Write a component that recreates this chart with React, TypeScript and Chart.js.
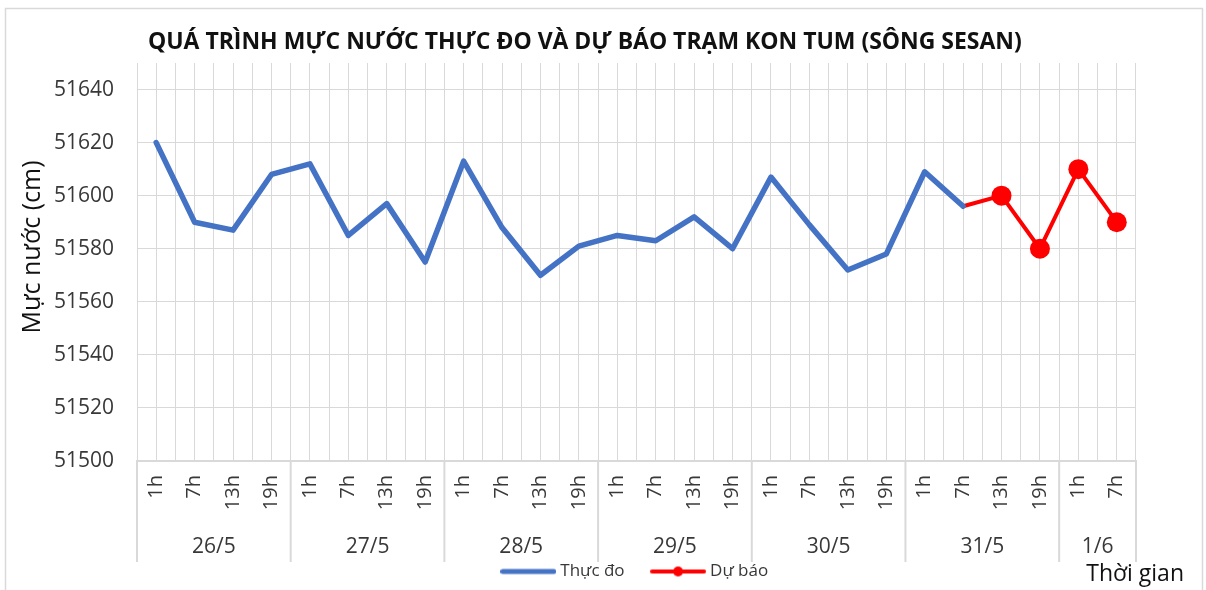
import React, { useEffect, useRef } from 'react';
import { Chart, registerables } from 'chart.js';

Chart.register(...registerables);

const TITLE = 'QUÁ TRÌNH MỰC NƯỚC THỰC ĐO VÀ DỰ BÁO TRẠM KON TUM (SÔNG SESAN)';
const Y_TITLE = 'Mực nước (cm)';
const X_TITLE = 'Thời gian';

const hourLabels = [
  '1h', '7h', '13h', '19h',
  '1h', '7h', '13h', '19h',
  '1h', '7h', '13h', '19h',
  '1h', '7h', '13h', '19h',
  '1h', '7h', '13h', '19h',
  '1h', '7h', '13h', '19h',
  '1h', '7h',
];
const dayLabels = ['26/5', '27/5', '28/5', '29/5', '30/5', '31/5', '1/6'];
const daySpans = [4, 4, 4, 4, 4, 4, 2];

const observed = [
  51620, 51590, 51587, 51608,
  51612, 51585, 51597, 51575,
  51613, 51588, 51570, 51581,
  51585, 51583, 51592, 51580,
  51607, 51589, 51572, 51578,
  51609, 51596, null, null,
  null, null,
];
const forecast = [
  null, null, null, null,
  null, null, null, null,
  null, null, null, null,
  null, null, null, null,
  null, null, null, null,
  null, 51596, 51600, 51580,
  51610, 51590,
];

const Y_MIN = 51500;
const Y_MAX = 51650;
const Y_LAST_TICK = 51640;
const Y_STEP = 20;

const FONT = '"Open Sans", "DejaVu Sans", sans-serif';
const GRID = '#d9d9d9';
const TEXT = '#383838';
const BLUE = '#4472C4';
const RED = '#FF0000';

function legendImage(color: string, lineW: number, dot: boolean) {
  const c = document.createElement('canvas');
  c.width = 56;
  c.height = 12;
  const g = c.getContext('2d')!;
  g.strokeStyle = color;
  g.lineWidth = lineW;
  g.lineCap = 'round';
  g.beginPath();
  g.moveTo(lineW / 2, 6);
  g.lineTo(56 - lineW / 2, 6);
  g.stroke();
  if (dot) {
    g.fillStyle = color;
    g.beginPath();
    g.arc(28, 6, 5, 0, Math.PI * 2);
    g.fill();
  }
  return c;
}

const decorPlugin = {
  id: 'decor',
  afterDraw(chart: any) {
    const { ctx, chartArea } = chart;
    const xs = chart.scales.x;
    ctx.save();
    // outer border
    ctx.strokeStyle = GRID;
    ctx.lineWidth = 1.5;
    ctx.strokeRect(5.5, 8.5, 1197, 600);

    // title
    ctx.fillStyle = '#111';
    ctx.font = `bold 21px ${FONT}`;
    const w = ctx.measureText(TITLE).width;
    const size = (21 * 874) / w;
    ctx.font = `bold ${size.toFixed(2)}px ${FONT}`;
    ctx.textAlign = 'left';
    ctx.textBaseline = 'middle';
    ctx.fillText(TITLE, 148, 42);

    // y title
    ctx.save();
    ctx.translate(33, 247);
    ctx.rotate(-Math.PI / 2);
    ctx.font = `25px ${FONT}`;
    ctx.fillStyle = '#111';
    ctx.textAlign = 'center';
    ctx.textBaseline = 'middle';
    ctx.fillText(Y_TITLE, 0, 0);
    ctx.restore();

    // day groups
    const step = xs.getPixelForValue(1) - xs.getPixelForValue(0);
    const bottom = chartArea.bottom;
    let idx = 0;
    ctx.strokeStyle = GRID;
    ctx.lineWidth = 2;
    ctx.font = `21px ${FONT}`;
    ctx.fillStyle = TEXT;
    ctx.textAlign = 'center';
    ctx.textBaseline = 'middle';
    const boundaries: number[] = [];
    dayLabels.forEach((lab, i) => {
      const left = xs.getPixelForValue(idx) - step / 2;
      const right = xs.getPixelForValue(idx + daySpans[i] - 1) + step / 2;
      if (i === 0) boundaries.push(left);
      boundaries.push(right);
      ctx.fillText(lab, (left + right) / 2, 547);
      idx += daySpans[i];
    });
    boundaries.forEach((bx) => {
      ctx.beginPath();
      ctx.moveTo(bx, bottom);
      ctx.lineTo(bx, 562);
      ctx.stroke();
    });

    // x title
    ctx.font = `23px ${FONT}`;
    ctx.fillStyle = '#111';
    ctx.textAlign = 'right';
    ctx.fillText(X_TITLE, 1184, 574);
    ctx.restore();
  },
};

export default function App() {
  const ref = useRef<HTMLCanvasElement | null>(null);

  useEffect(() => {
    document.body.style.margin = '0';
    const canvas = ref.current!;
    const imgs = [legendImage(BLUE, 5, false), legendImage(RED, 4, true)];
    const chart = new Chart(canvas, {
      type: 'line',
      data: {
        labels: hourLabels,
        datasets: [
          {
            label: 'Thực đo',
            data: observed,
            borderColor: BLUE,
            backgroundColor: BLUE,
            borderWidth: 5.5,
            pointRadius: 0,
            borderJoinStyle: 'round',
            borderCapStyle: 'round',
            tension: 0,
            spanGaps: false,
          },
          {
            label: 'Dự báo',
            data: forecast,
            borderColor: RED,
            backgroundColor: RED,
            borderWidth: 4,
            pointRadius: forecast.map((v, i) => (v === null || i === 21 ? 0 : 10)),
            pointBackgroundColor: RED,
            pointBorderColor: RED,
            pointBorderWidth: 0,
            borderJoinStyle: 'round',
            borderCapStyle: 'round',
            tension: 0,
          },
        ],
      },
      options: {
        responsive: false,
        animation: false,
        devicePixelRatio: 1,
        events: [],
        layout: { padding: { top: 63, left: 0, right: 70, bottom: 0 } },
        plugins: {
          title: { display: false },
          tooltip: { enabled: false },
          legend: {
            position: 'bottom',
            fullSize: false,
            labels: {
              usePointStyle: true,
              pointStyleWidth: 47,
              padding: 30,
              color: TEXT,
              font: { family: FONT, size: 17 },
              generateLabels: (ch: any) => {
                const items = Chart.defaults.plugins.legend.labels.generateLabels(ch);
                return items.map((it: any, i: number) => ({ ...it, pointStyle: imgs[i] }));
              },
            },
          },
        },
        scales: {
          x: {
            type: 'category',
            offset: true,
            grid: { offset: true, color: GRID, lineWidth: 1, drawTicks: false },
            border: { display: true, color: GRID, width: 2 },
            ticks: {
              minRotation: 90,
              maxRotation: 90,
              autoSkip: false,
              padding: 14,
              color: TEXT,
              font: { family: FONT, size: 20 },
            },
            afterFit: (s: any) => {
              s.height = 72;
            },
          },
          xc: {
            type: 'category',
            position: 'top',
            offset: true,
            grid: { offset: false, color: GRID, lineWidth: 1, drawTicks: false },
            border: { display: false },
            ticks: { display: false },
            afterFit: (s: any) => {
              s.height = 0;
            },
          },
          y: {
            type: 'linear',
            min: Y_MIN,
            max: Y_MAX,
            ticks: {
              stepSize: Y_STEP,
              padding: 23,
              color: TEXT,
              font: { family: FONT, size: 21 },
              callback: (v: any) => String(v),
            },
            grid: { color: GRID, lineWidth: 1, drawTicks: false },
            border: { display: false },
            afterBuildTicks: (s: any) => {
              s.ticks = s.ticks.filter((t: any) => t.value <= Y_LAST_TICK);
            },
            afterFit: (s: any) => {
              s.width = 137;
            },
          },
        },
      } as any,
      plugins: [decorPlugin],
    });
    return () => chart.destroy();
  }, []);

  return (
    <div style={{ position: 'relative', width: 1206, height: 590, background: '#fff' }}>
      <canvas ref={ref} width={1206} height={590} style={{ display: 'block', width: 1206, height: 590 }} />
    </div>
  );
}
